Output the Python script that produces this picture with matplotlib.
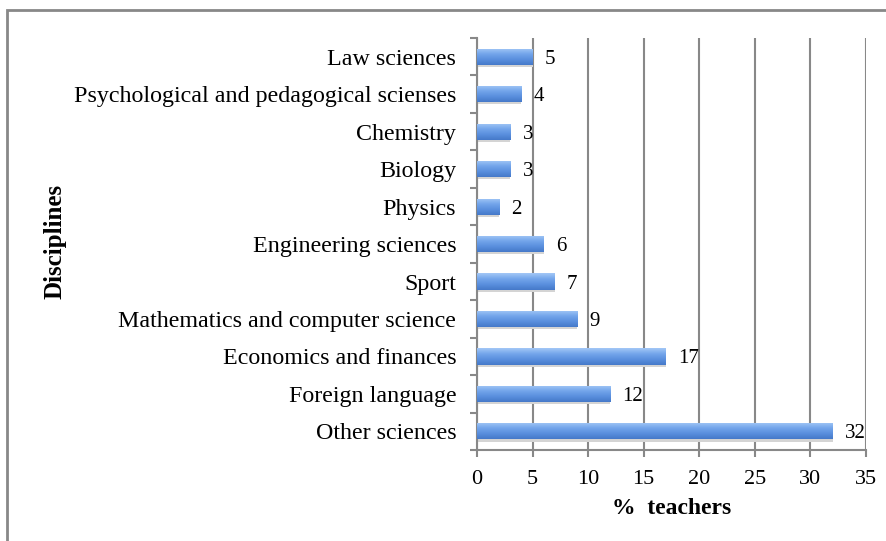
import matplotlib.pyplot as plt
from matplotlib.patches import Rectangle
from matplotlib.colors import LinearSegmentedColormap
import numpy as np

# data, top to bottom as shown
disciplines = ['Law sciences', 'Psychological and pedagogical scienses', 'Chemistry',
               'Biology', 'Physics', 'Engineering sciences', 'Sport',
               'Mathematics and computer science', 'Economics and finances',
               'Foreign language', 'Other sciences']
teachers_pct = [5, 4, 3, 3, 2, 6, 7, 9, 17, 12, 32]
xticks = [0, 5, 10, 15, 20, 25, 30, 35]

plt.rcParams['font.family'] = ['Liberation Serif', 'DejaVu Serif']

fig = plt.figure(figsize=(8.87, 5.41), dpi=100)
ax = fig.add_axes([0.5378, 0.168, 0.4385, 0.7618])

# outer frame of the figure (top and left visible)
fig.patches.append(Rectangle((0.008, -0.1), 1.2, 1.082, transform=fig.transFigure,
                             fill=False, edgecolor='#888888', linewidth=2))

y = np.arange(len(disciplines))[::-1]
# soft shadow under the bars
ax.barh(y - 0.06, teachers_pct, height=0.43, color='#d4d4d4', edgecolor='none', zorder=2.5)
bars = ax.barh(y, teachers_pct, height=0.43, color='#5B93E0', edgecolor='none', zorder=3)

# vertical gradient inside each bar (light top, darker bottom)
grad_cmap = LinearSegmentedColormap.from_list('bar', ['#A3C7F6', '#74A6EB', '#5A8FDE', '#4579C9'])
grad = np.linspace(0, 1, 64).reshape(-1, 1)
for b in bars:
    x0, y0, w, h = b.get_x(), b.get_y(), b.get_width(), b.get_height()
    im = ax.imshow(grad, cmap=grad_cmap, aspect='auto', extent=(x0, x0 + w, y0, y0 + h),
                   origin='upper', zorder=3.5, interpolation='bilinear')
    im.set_clip_path(b)

for yi, v in zip(y, teachers_pct):
    ax.text(v + 1.1, yi, str(v), va='center_baseline', ha='left', fontsize=15, zorder=4)

ax.set_xlim(0, 35)
ax.set_ylim(-0.5, len(disciplines) - 0.5)
ax.set_xticks(xticks)
ax.set_yticks(y)
ax.set_yticklabels(disciplines, fontsize=17.3)
ax.set_yticks(np.arange(-0.5, len(disciplines), 1), minor=True)
ax.tick_params(axis='y', which='major', length=0, pad=15)
ax.tick_params(axis='y', which='minor', length=5, width=1.5, color='#888888', direction='out')
ax.tick_params(axis='x', labelsize=16, length=5, width=1.5, color='#888888', pad=9)

ax.grid(axis='x', color='#888888', linewidth=1.5, zorder=0)
for s in ['top', 'right']:
    ax.spines[s].set_visible(False)
for s in ['left', 'bottom']:
    ax.spines[s].set_color('#888888')
    ax.spines[s].set_linewidth(1.5)

ax.set_xlabel('%  teachers', fontsize=17, fontweight='bold', labelpad=7)
fig.text(0.062, 0.553, 'Disciplines', rotation=90, ha='center', va='center',
         fontsize=18, fontweight='bold')

fig.savefig('out.png', dpi=100)
